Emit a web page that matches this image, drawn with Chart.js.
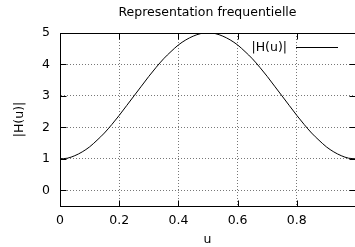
<!DOCTYPE html>
<html><head><meta charset="utf-8">
<script src="https://cdn.jsdelivr.net/npm/chart.js@4/dist/chart.umd.min.js"></script>
<style>
html,body{margin:0;padding:0;overflow:hidden;background:#fff;width:355px;height:247px}
#c{display:block}
</style></head>
<body><canvas id="c" width="355" height="247" style="width:355px;height:247px"></canvas>
<script>
const titleText = 'Representation frequentielle';
const xLabel = 'u';
const yLabel = '|H(u)|';
const seriesName = '|H(u)|';
const uValues = [0,0.025,0.05,0.075,0.1,0.125,0.15,0.175,0.2,0.225,0.25,0.275,0.3,0.325,0.35,0.375,0.4,0.425,0.45,0.475,0.5,
                 0.525,0.55,0.575,0.6,0.625,0.65,0.675,0.7,0.725,0.75,0.775,0.8,0.825,0.85,0.875,0.9,0.925,0.95,0.975,1];
const hValues = [1.00,1.02,1.10,1.22,1.38,1.59,1.82,2.09,2.38,2.69,3.00,3.31,3.62,3.91,4.18,4.41,4.62,4.78,4.90,4.98,5.00,
                 4.98,4.90,4.78,4.62,4.41,4.18,3.91,3.62,3.31,3.00,2.69,2.38,2.09,1.82,1.59,1.38,1.22,1.10,1.02,1.00];
const xTicks = [0,0.2,0.4,0.6,0.8];
const yTicks = [0,1,2,3,4,5];
// the plotted u-range runs just past the right edge of the picture (u = 1 sits ~1px outside)
const xMin = 0, xMax = 0.9966, yMin = -0.5, yMax = 5;

const FONT = '"DejaVu Sans", sans-serif';
const FSIZE = 12.5;
Chart.defaults.color = '#000';
Chart.defaults.font.family = FONT;
Chart.defaults.font.size = FSIZE;

const framePlugin = {
  id: 'frame',
  afterDatasetsDraw(chart) {
    const {ctx, chartArea: a, scales: {x, y}} = chart;
    ctx.save();
    ctx.strokeStyle = '#000'; ctx.lineWidth = 1; ctx.setLineDash([]);
    const L = Math.round(a.left) + 0.5, R = Math.round(a.right) + 0.5,
          T = Math.round(a.top) + 0.5, B = Math.round(a.bottom) + 0.5;
    ctx.beginPath();
    ctx.rect(L, T, R - L, B - T);
    xTicks.forEach(v => {
      const px = Math.round(x.getPixelForValue(v)) + 0.5;
      ctx.moveTo(px, B); ctx.lineTo(px, B - 6);
      ctx.moveTo(px, T); ctx.lineTo(px, T + 6);
    });
    yTicks.forEach(v => {
      const py = Math.round(y.getPixelForValue(v)) + 0.5;
      ctx.moveTo(L, py); ctx.lineTo(L + 6, py);
      ctx.moveTo(R, py); ctx.lineTo(R - 6, py);
    });
    ctx.stroke();
    // key (gnuplot style: text then line sample)
    const ky = Math.round(a.top + 14) + 0.5;
    ctx.font = FSIZE + 'px ' + FONT;
    ctx.fillStyle = '#000'; ctx.textAlign = 'right'; ctx.textBaseline = 'middle';
    ctx.fillText(seriesName, a.right - 68, ky);
    ctx.beginPath();
    ctx.moveTo(a.right - 59, ky); ctx.lineTo(a.right - 17, ky);
    ctx.stroke();
    ctx.restore();
  }
};

new Chart(document.getElementById('c'), {
  type: 'line',
  data: {
    datasets: [{
      label: seriesName,
      data: uValues.map((u, i) => ({x: u, y: hValues[i]})),
      borderColor: '#000',
      borderWidth: 1,
      pointRadius: 0,
      fill: false,
      cubicInterpolationMode: 'monotone'
    }]
  },
  options: {
    responsive: false,
    animation: false,
    events: [],
    devicePixelRatio: 1,
    layout: {padding: {right: 0, left: 0, top: 0, bottom: 0}},
    plugins: {
      legend: {display: false},
      tooltip: {enabled: false},
      title: {
        display: true, text: titleText, fullSize: false, color: '#000',
        font: {family: FONT, size: FSIZE, weight: 'normal'},
        padding: {top: 5, bottom: 13}
      }
    },
    scales: {
      x: {
        type: 'linear', min: xMin, max: xMax,
        afterBuildTicks: s => { s.ticks = xTicks.map(v => ({value: v})); },
        afterFit: s => { s.height = 41; },
        ticks: {padding: 7, maxRotation: 0, autoSkip: false, callback: v => String(v)},
        grid: {color: '#777', lineWidth: 1, drawTicks: false},
        border: {display: true, color: '#000', width: 1, dash: [1, 2]},
        title: {display: true, text: xLabel, color: '#000', font: {family: FONT, size: FSIZE}, padding: {top: -4, bottom: 0}}
      },
      y: {
        type: 'linear', min: yMin, max: yMax,
        afterBuildTicks: s => { s.ticks = yTicks.map(v => ({value: v})); },
        afterFit: s => { s.width = 60; },
        ticks: {padding: 10, callback: v => String(v)},
        grid: {color: '#777', lineWidth: 1, drawTicks: false},
        border: {display: true, color: '#000', width: 1, dash: [1, 2]},
        title: {display: true, text: yLabel, color: '#000', font: {family: FONT, size: FSIZE}, padding: {top: 12, bottom: 0}}
      }
    }
  },
  plugins: [framePlugin]
});
</script>
</body></html>
